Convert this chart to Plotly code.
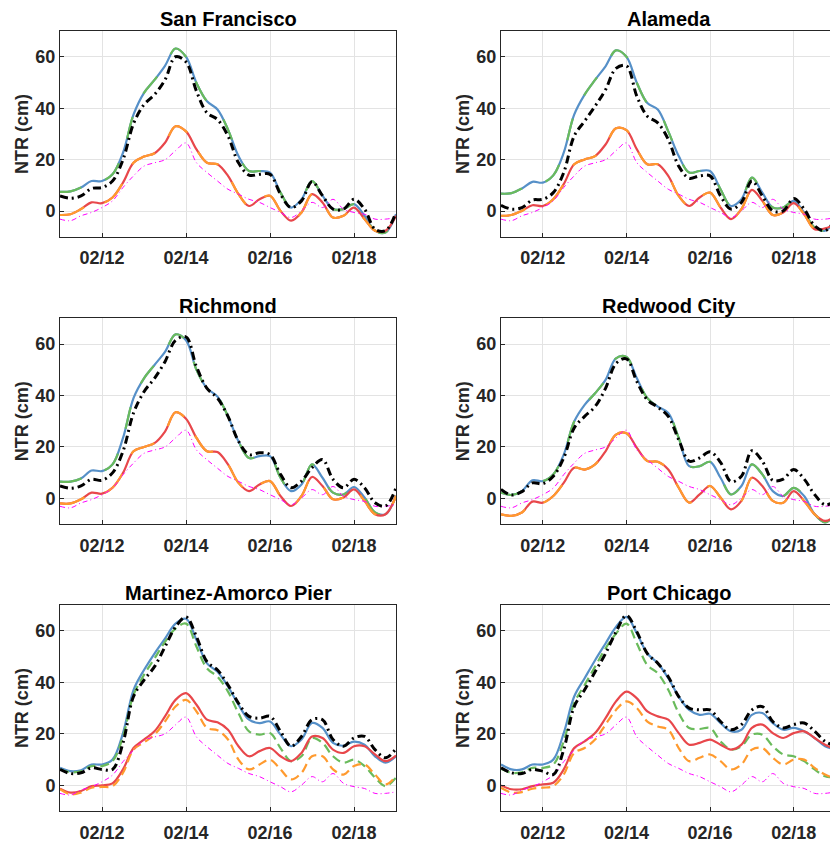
import pandas as pd
import plotly.graph_objects as go

# time axis: 6-hourly, 02/11 00:00 .. 02/19 00:00
times = pd.date_range("2019-02-11 00:00", "2019-02-19 00:00", freq="6h")

stations = ["San Francisco", "Alameda", "Richmond", "Redwood City",
            "Martinez-Amorco Pier", "Port Chicago"]
tick_days = ["2019-02-12", "2019-02-14", "2019-02-16", "2019-02-18"]
tick_text = ["02/12", "02/14", "02/16", "02/18"]
y_ticks = [0, 20, 40, 60]

# thin magenta series (same in every panel)
magenta_obs = [-3.1, -3.7, -1.8, -0.5, 1.4, 4.0, 9.2, 13.7, 17.5, 18.8, 20.0, 23.5, 26.5,
               18.8, 15.0, 11.7, 8.5, 6.6, 4.6, 3.4, 1.4, -0.5, -2.5, 0.1, 3.4, 1.4,
               4.6, 0.8, -0.5, -1.2, -3.1, -3.1, -2.5]

sf_blue = [7.5, 7.7, 9.2, 11.7, 11.7, 14.3, 22.7, 37.5, 46.0, 51.0, 56.5, 63.2, 60.0,
           49.8, 42.7, 39.5, 31.7, 21.4, 15.6, 15.6, 15.0, 7.2, 1.4, 4.6, 11.7, 6.0,
           0.8, 0.8, 2.7, -1.8, -7.6, -8.3, -1.2]
sf_black = [5.9, 5.0, 5.9, 8.8, 9.2, 11.7, 20.0, 34.0, 41.4, 45.3, 51.0, 60.0, 58.0,
            46.6, 38.2, 35.6, 29.2, 18.8, 14.0, 14.3, 14.3, 6.6, 1.4, 4.0, 11.4, 6.0,
            0.8, 0.8, 4.6, 0.8, -7.0, -7.6, -0.5]
sf_red = [-1.5, -1.2, 0.8, 3.4, 3.1, 5.3, 11.1, 18.8, 21.2, 22.5, 26.6, 33.0, 31.0,
          24.0, 18.8, 18.2, 13.7, 6.6, 2.0, 4.6, 6.0, 0.1, -3.7, -0.5, 6.6, 3.4,
          -2.5, -1.8, 1.4, -3.1, -7.6, -7.6, -1.8]

al_blue = [6.8, 7.0, 8.8, 11.4, 11.1, 13.9, 22.7, 37.5, 45.3, 51.0, 56.3, 62.5, 60.0,
           49.8, 42.0, 39.5, 31.0, 21.4, 15.0, 15.6, 15.6, 8.5, 2.0, 4.6, 13.0, 7.2,
           1.4, 1.4, 4.0, -0.5, -6.3, -7.6, -3.7]
al_black = [2.3, 0.8, 1.4, 4.3, 4.6, 7.2, 15.0, 29.2, 35.0, 40.8, 47.2, 55.5, 56.5,
            44.6, 36.9, 34.3, 27.9, 17.5, 12.8, 13.7, 13.7, 5.9, 0.8, 3.4, 11.7, 5.9,
            0.1, 0.1, 4.9, 0.8, -5.7, -7.6, -3.1]
al_red = [-1.8, -1.5, 0.1, 2.3, 2.0, 4.6, 10.5, 18.2, 20.1, 21.4, 25.9, 32.2, 31.5,
          24.0, 18.2, 18.2, 13.7, 5.9, 2.0, 5.3, 7.2, 1.4, -3.1, 0.8, 8.3, 4.0,
          -1.5, -0.5, 3.1, -1.2, -7.0, -6.7, -5.0]

ri_blue = [6.5, 6.5, 7.7, 10.8, 10.6, 13.2, 23.5, 39.0, 46.7, 51.9, 57.0, 63.8, 61.5,
           50.0, 42.8, 39.6, 31.9, 22.2, 15.7, 16.4, 16.4, 8.0, 2.8, 5.4, 13.2, 8.0,
           2.2, 1.5, 4.4, 0.3, -5.5, -6.2, 0.9]
ri_black = [4.8, 3.9, 4.8, 7.4, 7.0, 9.9, 18.3, 33.2, 41.5, 46.7, 53.2, 61.5, 62.8,
            51.2, 42.8, 39.0, 31.9, 22.2, 17.0, 17.7, 17.0, 9.3, 4.1, 6.7, 11.9, 15.1,
            7.4, 4.1, 7.4, 4.1, -1.7, -3.0, 4.1]
ri_red = [-2.0, -2.0, -0.4, 2.2, 1.8, 4.1, 9.9, 18.3, 20.0, 21.5, 26.0, 33.5, 31.0,
          23.5, 18.3, 18.0, 13.2, 6.0, 2.8, 5.4, 6.7, 0.9, -3.0, 0.9, 8.3, 4.8,
          -0.4, 0.3, 3.5, -1.0, -6.2, -6.2, 0.9]

rc_blue = [2.2, 1.3, 2.8, 7.0, 6.7, 9.3, 17.0, 29.9, 36.4, 40.9, 46.1, 54.5, 55.0,
           46.7, 39.0, 35.7, 33.2, 23.5, 12.5, 12.5, 14.2, 8.0, 1.5, 4.8, 13.2, 9.3,
           2.8, 0.9, 4.1, 0.9, -6.2, -9.4, -6.2]
rc_black = [3.5, 1.3, 2.6, 6.0, 5.7, 8.6, 15.7, 27.4, 31.9, 35.7, 42.8, 52.5, 54.3,
            45.4, 38.3, 35.5, 31.9, 22.8, 14.5, 15.7, 18.1, 14.0, 6.5, 8.6, 18.5, 14.5,
            7.0, 7.5, 11.2, 7.5, 1.5, -2.5, -1.0]
rc_red = [-6.2, -6.8, -5.5, -1.3, -1.7, 0.9, 6.0, 11.9, 11.2, 13.2, 18.3, 24.8, 25.3,
          19.6, 14.5, 14.2, 11.2, 4.1, -1.7, 1.5, 4.8, 0.3, -4.3, -1.0, 8.0, 4.8,
          -1.0, -1.7, 2.8, -1.0, -6.2, -8.8, -6.8]

ma_blue = [6.8, 5.5, 5.9, 8.1, 8.1, 10.0, 20.3, 37.0, 44.8, 51.2, 57.0, 62.8, 64.7,
           56.4, 47.4, 44.1, 38.4, 31.3, 25.5, 24.2, 24.8, 19.7, 15.2, 17.8, 24.2, 22.3,
           16.5, 15.4, 17.0, 15.8, 11.3, 8.8, 11.3]
ma_green = [6.2, 5.1, 5.5, 7.5, 7.5, 9.4, 19.0, 35.1, 42.9, 49.3, 55.7, 60.9, 62.8,
            53.8, 45.4, 42.2, 36.4, 28.0, 21.0, 19.7, 20.3, 14.5, 9.4, 11.3, 18.4, 16.5,
            11.3, 8.8, 10.0, 7.5, 3.0, -0.3, 3.0]
ma_black = [6.2, 4.6, 4.9, 6.8, 6.2, 6.2, 16.5, 34.5, 40.9, 46.1, 53.8, 61.5, 65.4,
            57.7, 48.0, 44.8, 39.0, 31.9, 26.8, 26.1, 26.8, 21.0, 15.2, 19.0, 25.5, 25.5,
            17.8, 15.2, 18.4, 19.0, 13.9, 10.7, 14.2]
ma_red = [-1.3, -2.8, -2.2, -0.3, 0.0, 0.8, 6.2, 14.5, 17.8, 21.0, 26.8, 33.2, 35.8,
          31.3, 25.5, 24.5, 21.6, 15.2, 11.3, 13.3, 14.5, 11.3, 9.4, 12.6, 19.0, 18.4,
          13.9, 12.6, 15.2, 15.2, 12.0, 9.4, 11.6]
ma_orange = [-1.5, -3.5, -2.8, -0.9, -0.6, -0.3, 4.9, 13.9, 16.7, 19.7, 24.8, 30.6, 33.2,
             28.7, 22.3, 21.4, 17.8, 10.0, 6.2, 8.1, 10.0, 6.2, 2.3, 4.9, 11.3, 11.3,
             6.2, 4.2, 7.5, 8.1, 4.2, 0.4, 3.6]

pc_blue = [8.1, 6.2, 6.2, 8.1, 8.1, 10.0, 20.3, 34.5, 41.6, 48.6, 55.1, 61.5, 65.4,
           59.0, 51.2, 47.4, 41.6, 34.5, 29.3, 27.4, 27.8, 24.2, 21.0, 21.6, 27.4, 28.1,
           24.2, 21.6, 22.3, 21.0, 18.4, 15.2, 13.9]
pc_green = [6.4, 4.9, 5.1, 6.8, 6.8, 8.1, 17.1, 31.9, 39.0, 46.1, 53.2, 58.9, 62.8,
            55.1, 46.7, 43.5, 37.1, 28.1, 22.3, 21.9, 22.3, 17.1, 13.9, 15.2, 19.7, 19.7,
            15.2, 12.0, 11.3, 9.4, 6.2, 3.6, 3.0]
pc_black = [6.8, 4.9, 4.6, 6.2, 5.5, 4.2, 13.9, 30.6, 37.1, 44.1, 51.2, 59.6, 66.0,
            59.6, 51.2, 47.4, 42.2, 34.5, 30.0, 29.3, 29.3, 24.8, 21.6, 23.6, 29.3, 30.6,
            24.8, 22.3, 23.6, 24.2, 21.0, 17.1, 15.2]
pc_red = [0.0, -1.5, -1.5, -0.3, 0.4, 1.0, 6.2, 14.5, 17.1, 20.3, 26.1, 32.6, 36.4,
          33.8, 28.7, 26.8, 25.5, 20.3, 15.8, 16.5, 17.8, 15.8, 13.9, 15.8, 22.3, 23.6,
          20.3, 18.4, 20.3, 21.0, 18.4, 15.8, 13.9]
pc_orange = [-0.9, -2.8, -2.6, -1.3, -0.9, -0.3, 4.2, 12.6, 14.5, 17.8, 23.6, 29.3, 32.6,
             30.0, 24.8, 22.9, 21.6, 14.5, 9.4, 10.7, 12.0, 9.4, 6.2, 8.1, 13.9, 14.5,
             10.7, 8.1, 10.0, 10.0, 6.8, 4.2, 2.6]

# per panel: blue, green, black, red, orange (top panels: green/orange overlap blue/red)
panel_data = [
    (sf_blue, sf_blue, sf_black, sf_red, sf_red, False),
    (al_blue, al_blue, al_black, al_red, al_red, False),
    (ri_blue, ri_blue, ri_black, ri_red, ri_red, False),
    (rc_blue, rc_blue, rc_black, rc_red, rc_red, False),
    (ma_blue, ma_green, ma_black, ma_red, ma_orange, True),
    (pc_blue, pc_green, pc_black, pc_red, pc_orange, True),
]

W, H = 830, 843
col_px = [(60, 396, "2019-02-19 00:00"), (501, 830, "2019-02-18 20:50")]
col_center = [228, 668.5]
ylabel_x = [22, 463]
row_px = [(31.2, 238), (320, 526.5), (608, 815)]

BLUE, GREEN, BLACK = "#5690c8", "#6abb5c", "#000000"
RED, ORANGE, MAGENTA = "#e8474b", "#ff9a2e", "#ff00ff"
AXC = "#262626"
GRID = "#e3e3e3"
FONT = "Liberation Sans, Arial, sans-serif"

fig = go.Figure()
annotations = []

for k, name in enumerate(stations):
    r, c = divmod(k, 2)
    n = k + 1
    xa, ya = f"x{n}", f"y{n}"
    blue, green, black, red, orange, dashed = panel_data[k]

    def line(y, color, width, dash):
        fig.add_trace(go.Scatter(x=times, y=y, xaxis=xa, yaxis=ya, mode="lines",
                                 line=dict(color=color, width=width, dash=dash, shape="spline"),
                                 showlegend=False, hoverinfo="skip"))

    if dashed:
        line(blue, BLUE, 2.2, "solid")
        line(green, GREEN, 2.2, "9px,5px")
        line(red, RED, 2.2, "solid")
        line(orange, ORANGE, 2.2, "9px,5px")
    else:
        # overlapping curves: alternate colours along the line
        line(blue, BLUE, 2.2, "solid")
        line(green, GREEN, 2.2, "22px,26px")
        line(red, RED, 2.2, "solid")
        line(orange, ORANGE, 2.2, "26px,22px")
    line(magenta_obs, MAGENTA, 1, "5px,3px,1px,3px")
    line(black, BLACK, 3, "8px,4px,2px,4px")

    x0, x1, xend = col_px[c]
    top, bot = row_px[r]
    suffix = "" if n == 1 else str(n)
    fig.layout["xaxis" + suffix] = dict(
        domain=[x0 / W, x1 / W], anchor=ya, type="date",
        range=["2019-02-11 00:00", xend],
        tickvals=tick_days, ticktext=tick_text,
        tickfont=dict(family=FONT, size=18, color=AXC, weight="bold"),
        ticks="inside", ticklen=4, tickcolor=AXC,
        showgrid=True, gridcolor=GRID, gridwidth=1,
        showline=True, linecolor=AXC, linewidth=1, mirror=True,
        zeroline=False, ticklabelstandoff=5,
    )
    fig.layout["yaxis" + suffix] = dict(
        domain=[1 - bot / H, 1 - top / H], anchor=xa,
        range=[-10, 70], tickvals=y_ticks,
        tickfont=dict(family=FONT, size=18, color=AXC, weight="bold"),
        ticks="inside", ticklen=4, tickcolor=AXC,
        showgrid=True, gridcolor=GRID, gridwidth=1,
        showline=True, linecolor=AXC, linewidth=1, mirror=(c == 0),
        zeroline=False,
    )

    annotations.append(dict(
        text=name, xref="paper", yref="paper", x=col_center[c] / W, y=1 - top / H,
        xanchor="center", yanchor="bottom", yshift=-1, showarrow=False,
        font=dict(family=FONT, size=20, color="black", weight="bold"),
    ))
    annotations.append(dict(
        text="NTR (cm)", xref="paper", yref="paper", x=ylabel_x[c] / W,
        y=1 - (top + bot) / 2 / H, xanchor="center", yanchor="middle",
        textangle=-90, showarrow=False,
        font=dict(family=FONT, size=18, color=AXC, weight="bold"),
    ))

fig.update_layout(
    width=W, height=H,
    margin=dict(l=0, r=0, t=0, b=0),
    paper_bgcolor="white", plot_bgcolor="white",
    annotations=annotations,
)

fig.write_html("out.html", config={"displayModeBar": False},
               post_script="document.body.style.margin='0';document.body.style.overflow='hidden';")
